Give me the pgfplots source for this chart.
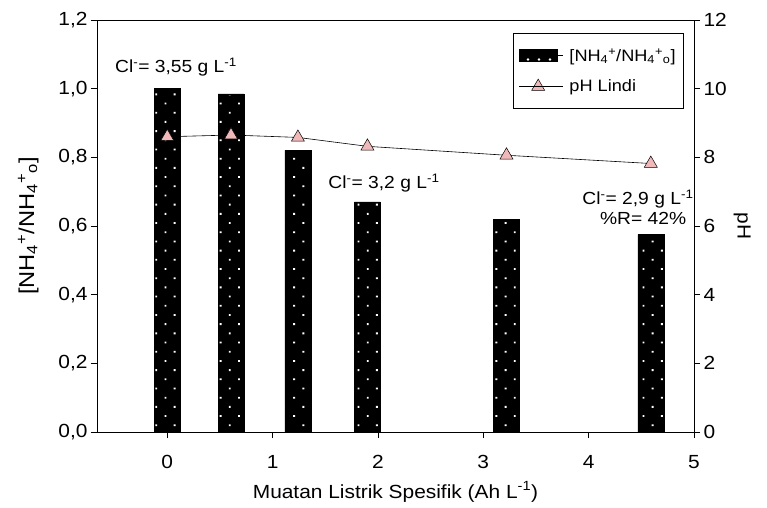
\documentclass[border=0pt]{standalone}
\usepackage{pgfplots}
\pgfplotsset{compat=1.18}
\usepackage{fontspec}
\setmainfont{Liberation Sans}[FakeStretch=1.1]
\usetikzlibrary{patterns.meta}
\definecolor{mkpink}{RGB}{240,184,184}
\begin{document}
\begin{tikzpicture}
\pgfplotsset{
  common/.style={
    scale only axis, width=597bp, height=412bp,
    xmin=-0.667, xmax=5,
    tick align=outside,
    major tick length=6bp,
    every tick/.style={black, line width=0.6pt},
    tick label style={font=\fontsize{19bp}{21bp}\selectfont},
    label style={font=\fontsize{19bp}{22bp}\selectfont},
    /pgf/number format/assume math mode=true,
    axis line style={line width=0.6pt},
  },
  dotbar/.style={fill=black, draw=black,
    postaction={pattern={Dots[distance=13bp, angle=45, radius=1.3bp]}, pattern color=white}},
}
\begin{axis}[common,
  ymin=0, ymax=1.2,
  xtick={0,1,2,3,4,5},
  ytick={0,0.2,0.4,0.6,0.8,1.0,1.2},
  xtick pos=bottom, ytick pos=left,
  yticklabel style={/pgf/number format/.cd, use comma, fixed, fixed zerofill, precision=1},
  xticklabel style={yshift=-14bp},
  xlabel={Muatan Listrik Spesifik (Ah L\textsuperscript{-1})},
  ylabel={[NH\textsubscript{4}\textsuperscript{+}/NH\textsubscript{4}\textsuperscript{+}\textsubscript{o}]},
  xlabel style={yshift=-6bp},
  ylabel style={yshift=13bp, font=\fontsize{21.5bp}{24bp}\selectfont},
]
\addplot[ybar, bar width=0.246, dotbar] coordinates {
  (0,1.0) (0.605,0.985) (1.24,0.82) (1.9,0.67) (3.22,0.62) (4.59,0.575)
};
\node[font=\fontsize{17.5bp}{19bp}\selectfont] at (axis cs:0.083,1.063) {Cl\textsuperscript{-}= 3,55 g L\textsuperscript{-1}};
\node[font=\fontsize{17.5bp}{19bp}\selectfont] at (axis cs:2.057,0.725) {Cl\textsuperscript{-}= 3,2 g L\textsuperscript{-1}};
\node[font=\fontsize{17.5bp}{19bp}\selectfont] at (axis cs:4.468,0.679) {Cl\textsuperscript{-}= 2,9 g L\textsuperscript{-1}};
\node[font=\fontsize{17.5bp}{19bp}\selectfont, anchor=east] at (axis cs:4.96,0.623) {\%R= 42\%};
\end{axis}
\begin{axis}[common,
  ymin=0, ymax=12,
  ytick={0,2,4,6,8,10,12},
  hide x axis,
  axis y line*=right,
  ylabel={pH},
  ylabel style={rotate=180},
  legend style={at={(0.983,0.968)}, anchor=north east, draw=black, line width=0.6pt,
    font=\fontsize{16.5bp}{19bp}\selectfont, inner xsep=6bp, inner ysep=13bp,
    row sep=13bp, column sep=4bp, cells={anchor=west}},
  legend cell align=left,
]
\addlegendimage{legend image code/.code={
  \draw[black, fill=black, postaction={pattern={Dots[distance=11bp, radius=1.3bp, yshift=-2.5bp]}, pattern color=white}] (0bp,-6bp) rectangle (38bp,6bp);
  \path (0bp,0bp) -- (44bp,0bp);}}
\addlegendentry{[NH\textsubscript{4}\textsuperscript{+}/NH\textsubscript{4}\textsuperscript{+}\textsubscript{o}]}
\addplot[black, line width=0.6pt, mark=triangle*, mark size=7.5bp,
  mark options={fill=mkpink, draw=black, line width=0.5pt},
  legend image code/.code={
    \draw[black, line width=0.6pt] (0bp,0bp) -- (38bp,0bp);
    \draw[black, fill=mkpink, line width=0.5pt] plot[mark=triangle*, mark size=7.5bp] coordinates {(19bp,0bp)};
    \path (0bp,0bp) -- (44bp,0bp);}]
  coordinates {(0,8.6) (0.605,8.65) (1.24,8.58) (1.9,8.32) (3.22,8.06) (4.59,7.82)};
\addlegendentry{pH Lindi}
\end{axis}
\path (-97bp,-76bp) rectangle (670bp,432bp);
\end{tikzpicture}
\end{document}
